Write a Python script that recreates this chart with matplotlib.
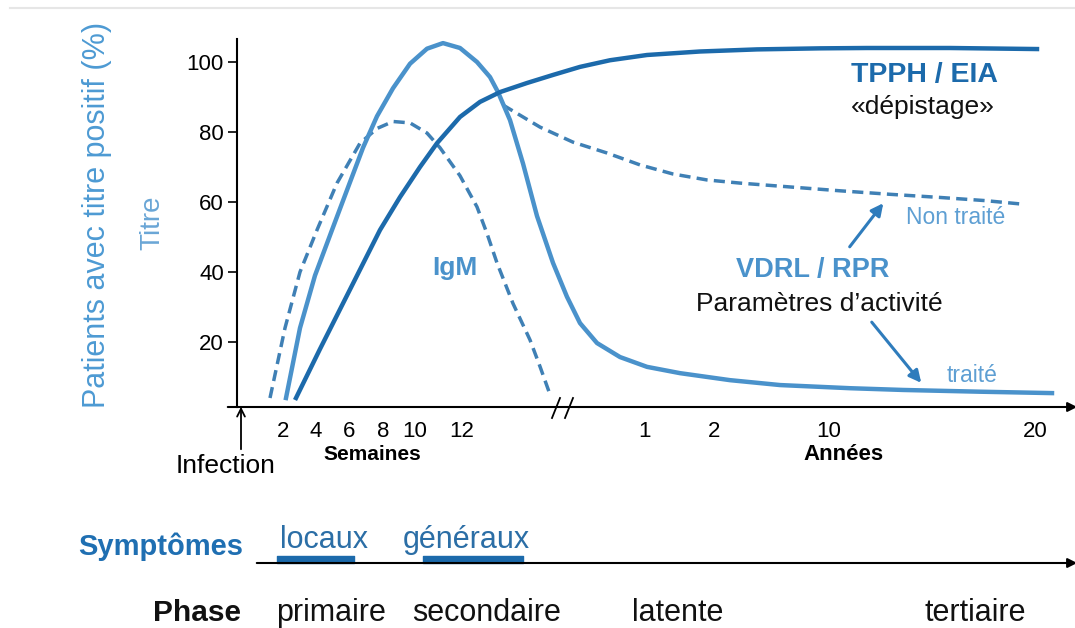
import matplotlib.pyplot as plt

plt.rcParams['font.family'] = ['Liberation Sans', 'DejaVu Sans']

W, H = 1075, 628

DARK = '#1c6aab'
LIGHT = '#4a92cb'
DASH = '#3f80b5'
PALE = '#5e9fd3'

# axe horizontal schématique : position le long de l'axe (semaines puis années)
week_ticks = [283, 316, 349, 383, 415, 462]
week_labels = ['2', '4', '6', '8', '10', '12']
year_ticks = [644, 714, 829, 1035]
year_labels = ['1', '2', '10', '20']

# TPPH / EIA (dépistage)
tpph_x = [296, 320, 350, 380, 400, 420, 437, 460, 480, 500, 527, 553, 580, 610, 647, 700, 757,
          820, 867, 950, 1037]
tpph_y = [4, 18, 35, 52, 61.4, 70, 76.8, 84.3, 88.6, 91.4, 94, 96.3, 98.6, 100.5, 102, 103, 103.6,
          103.9, 104, 104, 103.7]

# VDRL / RPR traité
vdrl_x = [286, 300, 315, 332, 347, 363, 377, 393, 410, 427, 443, 460, 477, 490, 498, 510, 523,
          537, 553, 567, 580, 597, 620, 647, 680, 730, 780, 850, 903, 980, 1052]
vdrl_y = [4, 24, 39, 52, 63.4, 75.5, 84.5, 92.5, 99.5, 103.8, 105.4, 104, 100, 95.7, 91.4, 83.4, 71,
          56, 42.6, 32.9, 25.4, 19.7, 15.7, 12.9, 11.1, 9.1, 7.7, 6.8, 6.3, 5.8, 5.4]

# VDRL / RPR non traité
untreated_x = [503, 540, 573, 607, 640, 673, 707, 740, 790, 840, 890, 940, 985, 1022]
untreated_y = [87.7, 81.4, 77.1, 74, 70.6, 68, 66.3, 65.4, 64.3, 63.2, 62.2, 61.3, 60.4, 59.4]

# IgM
igm_x = [270, 285, 300, 317, 337, 360, 377, 393, 410, 427, 440, 460, 477, 487, 497, 513, 530,
         540, 550]
igm_y = [4, 24, 40, 52, 65.4, 76.8, 81, 83, 82.6, 79.7, 75.5, 67.5, 58.6, 51, 42.6, 31, 20.6,
         13, 5]

# symptômes (début, durée) et phases
symptom_spans = [(277, 77), (423, 100)]
symptom_labels = ['locaux', 'généraux']
phase_labels = ['primaire', 'secondaire', 'latente', 'tertiaire']

fig = plt.figure(figsize=(W / 100, H / 100), dpi=100)

ax = fig.add_axes([237 / W, (H - 407) / H, (W - 237) / W, (407 - 39) / H])
ax.set_xlim(237, W)
ax.set_ylim(1.43, 106.57)
for s in ['top', 'right', 'bottom']:
    ax.spines[s].set_visible(False)
ax.spines['left'].set_linewidth(1.5)
ax.set_yticks([20, 40, 60, 80, 100])
ax.tick_params(axis='y', length=6.5, width=1.2, labelsize=16, pad=3)
ax.set_xticks(week_ticks + year_ticks, week_labels + year_labels)
ax.tick_params(axis='x', length=0, pad=10, labelsize=16)

ax.plot(igm_x, igm_y, color=DASH, lw=2.5, ls=(0, (3.2, 1.8)))
ax.plot(untreated_x, untreated_y, color=DASH, lw=2.5, ls=(0, (3.2, 1.8)))
ax.plot(vdrl_x, vdrl_y, color=LIGHT, lw=3.2, solid_joinstyle='round')
ax.plot(tpph_x, tpph_y, color=DARK, lw=3.2, solid_joinstyle='round')

ax.annotate('', xy=(1080, 1.43), xytext=(225, 1.43), annotation_clip=False,
            arrowprops=dict(arrowstyle='-|>', lw=1.5, color='black', mutation_scale=14))

# calque d'annotation en pixels
ov = fig.add_axes([0, 0, 1, 1])
ov.set_xlim(0, W)
ov.set_ylim(H, 0)
ov.axis('off')
ov.patch.set_alpha(0)

ov.plot([10, W], [8, 8], color='#e6e6e6', lw=1.5)

ov.text(97, 215, 'Patients avec titre positif (%)', rotation=90, ha='center', va='center',
        fontsize=22, color='#4d9ad3')
ov.text(152, 223, 'Titre', rotation=90, ha='center', va='center', fontsize=20, color='#6aa6d6')

ov.text(851, 75, 'TPPH / EIA', ha='left', va='center', fontsize=20.5, fontweight='bold', color=DARK)
ov.text(851, 107, '«dépistage»', ha='left', va='center', fontsize=19, color='#111111')
ov.text(906, 218, 'Non traité', ha='left', va='center', fontsize=16.5, color=PALE)
ov.text(736, 270, 'VDRL / RPR', ha='left', va='center', fontsize=19.5, fontweight='bold', color=LIGHT)
ov.text(696, 304, 'Paramètres d’activité', ha='left', va='center', fontsize=19, color='#111111')
ov.text(947, 376, 'traité', ha='left', va='center', fontsize=16.5, color=PALE)
ov.text(432, 268, 'IgM', ha='left', va='center', fontsize=19, fontweight='bold', color=LIGHT)

ov.annotate('', xy=(885, 201), xytext=(848, 249),
            arrowprops=dict(arrowstyle='-|>', lw=2.2, color='#2f7cbc', mutation_scale=18))
ov.annotate('', xy=(923, 385), xytext=(870, 320),
            arrowprops=dict(arrowstyle='-|>', lw=2.2, color='#2f7cbc', mutation_scale=18))

# coupure de l'axe
ov.plot([552, 560], [418, 398], color='black', lw=1.3)
ov.plot([565, 573], [418, 398], color='black', lw=1.3)

ov.text(372, 455, 'Semaines', ha='center', va='center', fontsize=15, fontweight='bold')
ov.text(843, 455, 'Années', ha='center', va='center', fontsize=16, fontweight='bold')
ov.text(226, 466, 'Infection', ha='center', va='center', fontsize=19)
ov.annotate('', xy=(241, 404), xytext=(241, 452),
            arrowprops=dict(arrowstyle='->', lw=1.3, color='black', mutation_scale=14))

# symptômes
ov.text(78, 547, 'Symptômes', ha='left', va='center', fontsize=21, fontweight='bold', color='#1f6fb2')
ov.annotate('', xy=(1080, 563), xytext=(254, 563), annotation_clip=False,
            arrowprops=dict(arrowstyle='-|>', lw=1.5, color='black', mutation_scale=14))
ov.broken_barh(symptom_spans, (556, 7), color=DARK)
for xc, lab in zip([324, 466], symptom_labels):
    ov.text(xc, 540, lab, ha='center', va='center', fontsize=22, color='#2b6ea6')

# phases
ov.text(153, 613, 'Phase', ha='left', va='center', fontsize=21.5, fontweight='bold', color='#111111')
for xc, lab in zip([331, 487, 678, 975], phase_labels):
    ov.text(xc, 613, lab, ha='center', va='center', fontsize=22, color='#111111')

fig.savefig('out.png', dpi=100, facecolor='white')
